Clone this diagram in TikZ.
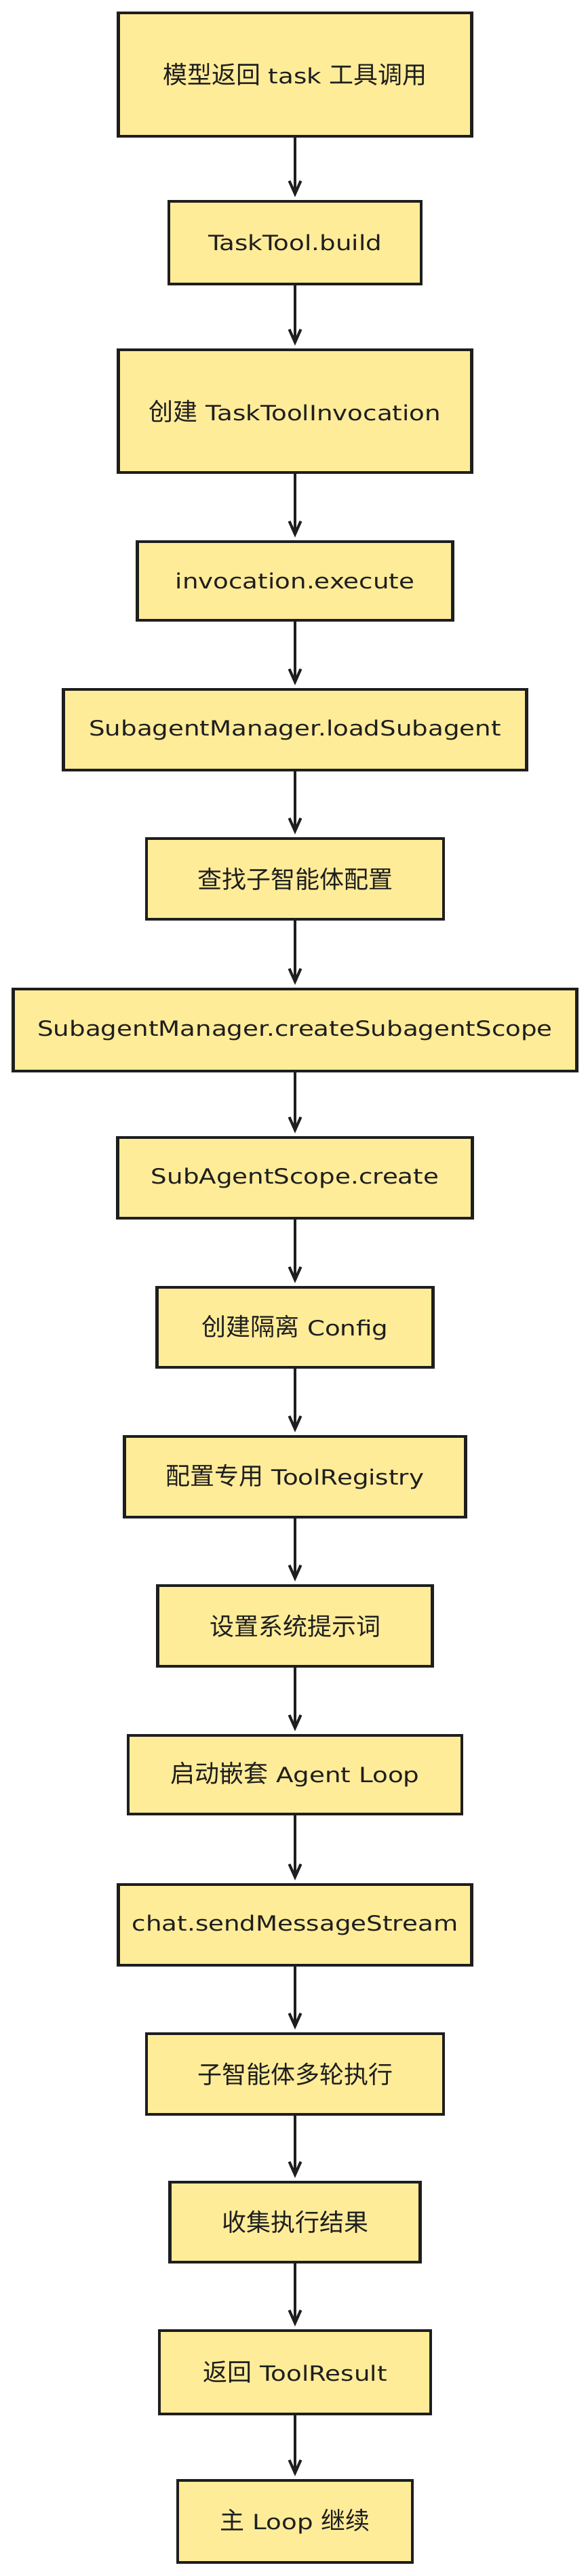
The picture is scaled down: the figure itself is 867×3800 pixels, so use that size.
\documentclass[tikz,border=0pt]{standalone}
\usepackage{fontspec}
\setmainfont{DejaVu Sans}[FakeStretch=1.2]
\newfontfamily\cjk{Noto Sans CJK SC}
\usetikzlibrary{arrows.meta}
\definecolor{boxfill}{HTML}{FFEC99}
\definecolor{ink}{HTML}{1E1E1E}
\tikzset{
  flowbox/.style={draw=ink, fill=boxfill, line width=4.5pt, rectangle, inner sep=0pt,
    align=center, text=ink, font=\fontsize{31}{36}\selectfont},
  flowarrow/.style={draw=ink, line width=4pt, line cap=round,
    -{Straight Barb[length=19pt,width=17pt,line width=4pt]}, shorten >=4pt},
}
\newcommand{\zh}[1]{{\cjk\fontsize{36}{40}\selectfont #1}}
\begin{document}
\begin{tikzpicture}[x=1pt,y=-1pt]
\useasboundingbox (0,0) rectangle (867,3800);
\node[flowbox, minimum width=521pt, minimum height=182pt] (n1) at (435,110) {\zh{模型返回} task \zh{工具调用}};
\node[flowbox, minimum width=372pt, minimum height=122pt] (n2) at (435,358) {TaskTool.build};
\node[flowbox, minimum width=521pt, minimum height=181pt] (n3) at (435,606.5) {\zh{创建} TaskToolInvocation};
\node[flowbox, minimum width=465pt, minimum height=116pt] (n4) at (435,857) {invocation.execute};
\node[flowbox, minimum width=683pt, minimum height=119pt] (n5) at (435,1076.5) {SubagentManager.loadSubagent};
\node[flowbox, minimum width=438pt, minimum height=119pt] (n6) at (435,1296.5) {\zh{查找子智能体配置}};
\node[flowbox, minimum width=831pt, minimum height=121pt] (n7) at (435,1519.5) {SubagentManager.createSubagentScope};
\node[flowbox, minimum width=523pt, minimum height=119pt] (n8) at (435,1737.5) {SubAgentScope.create};
\node[flowbox, minimum width=407pt, minimum height=118pt] (n9) at (435,1958) {\zh{创建隔离} Config};
\node[flowbox, minimum width=503pt, minimum height=119pt] (n10) at (435,2178.5) {\zh{配置专用} ToolRegistry};
\node[flowbox, minimum width=405pt, minimum height=119pt] (n11) at (435,2398.5) {\zh{设置系统提示词}};
\node[flowbox, minimum width=492pt, minimum height=116pt] (n12) at (435,2618) {\zh{启动嵌套} Agent Loop};
\node[flowbox, minimum width=521pt, minimum height=119pt] (n13) at (435,2839.5) {chat.sendMessageStream};
\node[flowbox, minimum width=438pt, minimum height=119pt] (n14) at (435,3059.5) {\zh{子智能体多轮执行}};
\node[flowbox, minimum width=369pt, minimum height=118pt] (n15) at (435,3278) {\zh{收集执行结果}};
\node[flowbox, minimum width=400pt, minimum height=123pt] (n16) at (435,3499.5) {\zh{返回} ToolResult};
\node[flowbox, minimum width=346pt, minimum height=121pt] (n17) at (435,3719.5) {\zh{主} Loop \zh{继续}};
\foreach \a/\b in {n1/n2,n2/n3,n3/n4,n4/n5,n5/n6,n6/n7,n7/n8,n8/n9,n9/n10,n10/n11,n11/n12,n12/n13,n13/n14,n14/n15,n15/n16,n16/n17}
  \draw[flowarrow] (\a.south) -- (\b.north);
\end{tikzpicture}
\end{document}
